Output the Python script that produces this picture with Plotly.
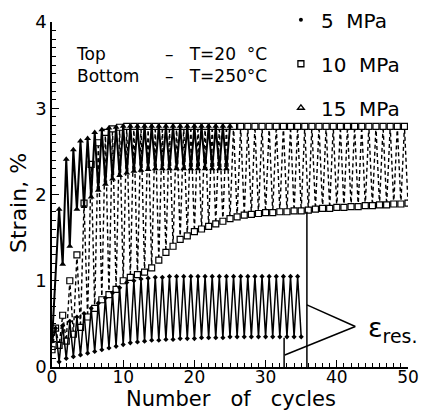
import plotly.graph_objects as go

# ---------------- data ----------------
# 5 MPa : bottom (T=250°C) at integer cycles, top (T=20°C) at half cycles
bot5_cyc = list(range(0, 36))
bot5 = [0.30, 0.06, 0.10, 0.12, 0.14, 0.16, 0.18, 0.20, 0.22, 0.24,
        0.26, 0.28, 0.29, 0.30, 0.31, 0.31, 0.32, 0.32, 0.33, 0.33,
        0.33, 0.34, 0.34, 0.34, 0.34, 0.35, 0.35, 0.35, 0.35, 0.35,
        0.35, 0.35, 0.35, 0.35, 0.35, 0.35]
top5_cyc = [n + 0.5 for n in range(0, 35)]
top5 = [0.45, 0.48, 0.53, 0.58, 0.62, 0.68, 0.74, 0.80, 0.86, 0.92,
        0.98, 1.00, 1.02, 1.03, 1.04, 1.04, 1.05, 1.05, 1.05, 1.05,
        1.05, 1.05, 1.05, 1.05, 1.05, 1.05, 1.05, 1.05, 1.05, 1.05,
        1.05, 1.05, 1.05, 1.05, 1.05]

# 10 MPa
bot10_cyc = list(range(0, 51))
bot10 = [0.20, 0.25, 0.30, 0.38, 0.46, 0.58, 0.68, 0.78, 0.84, 0.90,
         1.00, 1.04, 1.07, 1.10, 1.15, 1.24, 1.33, 1.40, 1.48, 1.52,
         1.57, 1.60, 1.63, 1.66, 1.69, 1.72, 1.74, 1.76, 1.77, 1.78,
         1.79, 1.79, 1.80, 1.80, 1.81, 1.81, 1.82, 1.83, 1.84, 1.84,
         1.85, 1.85, 1.86, 1.86, 1.87, 1.87, 1.88, 1.88, 1.89, 1.89,
         1.90]
top10_cyc = [n + 0.5 for n in range(0, 50)]
top10 = [0.45, 0.60, 1.00, 1.30, 1.90, 2.35, 2.60, 2.72, 2.76, 2.78,
         2.79, 2.79, 2.79, 2.79, 2.79, 2.79, 2.79, 2.79, 2.79, 2.79,
         2.79, 2.79, 2.79, 2.79, 2.79, 2.79, 2.79, 2.79, 2.79, 2.79,
         2.79, 2.79, 2.79, 2.79, 2.79, 2.79, 2.79, 2.79, 2.79, 2.79,
         2.79, 2.79, 2.79, 2.79, 2.79, 2.79, 2.79, 2.79, 2.79, 2.79]

# 15 MPa : top at integer cycles, bottom at half cycles (plus start)
bot15_cyc = [0] + [n + 0.5 for n in range(1, 25)]
bot15 = [0.30, 1.19, 1.40, 1.83, 1.86, 1.97, 2.05, 2.12, 2.18, 2.22,
         2.25, 2.27, 2.28, 2.29, 2.30, 2.30, 2.30, 2.30, 2.30, 2.30,
         2.30, 2.30, 2.30, 2.30, 2.30]
top15_cyc = list(range(1, 26))
top15 = [1.83, 2.41, 2.52, 2.62, 2.65, 2.72, 2.75, 2.77, 2.78, 2.79,
         2.79, 2.79, 2.79, 2.79, 2.79, 2.79, 2.79, 2.79, 2.79, 2.79,
         2.79, 2.79, 2.79, 2.79, 2.79]

series_names = ["5  MPa", "10  MPa", "15  MPa"]

# residual-strain annotation (cycle, strain)
eres_long = (35.8, 1.80)
eres_short = (32.6, 0.34)
eres_tip = (42.6, 0.47)
eres_ends = [(35.8, 0.72), (32.7, 0.14)]


def merge(bx, by, tx, ty):
    pts = sorted(list(zip(bx, by)) + list(zip(tx, ty)), key=lambda p: p[0])
    return [p[0] for p in pts], [p[1] for p in pts]


x5, y5 = merge(bot5_cyc, bot5, top5_cyc, top5)
x10, y10 = merge(bot10_cyc, bot10, top10_cyc, top10)
x15, y15 = merge(bot15_cyc, bot15, top15_cyc, top15)

fig = go.Figure()
fig.add_trace(go.Scatter(x=x10, y=y10, mode="lines+markers", showlegend=False,
                         line=dict(color="black", width=1.4, dash="4px,3px"),
                         marker=dict(symbol="square", size=6, color="white",
                                     line=dict(color="black", width=1.2))))
fig.add_trace(go.Scatter(x=x5, y=y5, mode="lines+markers", showlegend=False,
                         line=dict(color="black", width=1.5),
                         marker=dict(symbol="diamond", size=4, color="black")))
fig.add_trace(go.Scatter(x=x15, y=y15, mode="lines+markers", showlegend=False,
                         line=dict(color="black", width=2),
                         marker=dict(symbol="triangle-up", size=6, color="black")))

# legend entries
leg_symbols = [dict(symbol="circle", size=4, color="black"),
               dict(symbol="square-open", size=6, color="black", line=dict(width=1.3)),
               dict(symbol="triangle-up-open", size=6, color="black", line=dict(width=1.3))]
for i, (nm, mk) in enumerate(zip(series_names, leg_symbols)):
    fig.add_trace(go.Scatter(x=[None], y=[None], mode="markers", name=nm,
                             marker=mk, legendgroup=str(i)))

# residual strain lines
lw = dict(color="black", width=1.5)
fig.add_shape(type="line", xref="x", yref="y", x0=eres_long[0], x1=eres_long[0],
              y0=0, y1=eres_long[1], line=lw)
fig.add_shape(type="line", xref="x", yref="y", x0=eres_short[0], x1=eres_short[0],
              y0=0, y1=eres_short[1], line=lw)
for ex, ey in eres_ends:
    fig.add_shape(type="line", xref="x", yref="y", x0=eres_tip[0], y0=eres_tip[1],
                  x1=ex, y1=ey, line=lw)

fig.add_annotation(x=44.1, y=0.44, xref="x", yref="y", text="ε<sub>res.</sub>",
                   showarrow=False, xanchor="left", yanchor="middle",
                   font=dict(size=27, color="black", family="DejaVu Sans"))


def px2paper(px, py):
    return (px - 52) / 356.0, (367 - py) / 345.0


tf = dict(size=17, color="black", family="DejaVu Sans")
for txt, (px, py) in [("Top<br>Bottom", (74, 65)),
                      ("–   T=20  °C<br>–   T=250°C", (163, 65))]:
    ax, ay = px2paper(px, py)
    fig.add_annotation(x=ax, y=ay, xref="paper", yref="paper", text=txt, align="left",
                       showarrow=False, xanchor="left", yanchor="middle", font=tf)

# axis titles
ax, ay = px2paper(231, 399)
fig.add_annotation(x=ax, y=ay, xref="paper", yref="paper", text="Number   of   cycles",
                   showarrow=False, xanchor="center", yanchor="middle",
                   font=dict(size=21, color="black", family="DejaVu Sans"))
ax, ay = px2paper(19, 203)
fig.add_annotation(x=ax, y=ay, xref="paper", yref="paper", text="Strain, %",
                   showarrow=False, xanchor="center", yanchor="middle", textangle=-90,
                   font=dict(size=22, color="black", family="DejaVu Sans"))

fig.update_layout(
    width=423, height=412, autosize=False,
    margin=dict(l=52, r=15, t=22, b=45, autoexpand=False),
    paper_bgcolor="white", plot_bgcolor="white",
    font=dict(family="DejaVu Sans", color="black", size=18),
    showlegend=True,
    legend=dict(x=0.643, y=1.063, xanchor="left", yanchor="top",
                bgcolor="rgba(0,0,0,0)", font=dict(size=20),
                tracegroupgap=15, itemwidth=30),
    xaxis=dict(range=[0, 50], tickvals=[0, 10, 20, 30, 40, 50], ticks="inside",
               ticklen=7, tickwidth=1.3, tickcolor="black", ticklabelstandoff=-6,
               minor=dict(dtick=1, ticks="inside", ticklen=4, tickcolor="black", tickwidth=1),
               showgrid=False, zeroline=False, showline=True, linecolor="black",
               linewidth=1.5, tickfont=dict(size=17)),
    yaxis=dict(range=[0, 4], tickvals=[0, 1, 2, 3, 4], ticks="inside",
               ticklen=7, tickwidth=1.3, tickcolor="black",
               minor=dict(dtick=0.1, ticks="inside", ticklen=4, tickcolor="black", tickwidth=1),
               showgrid=False, zeroline=False, showline=True, linecolor="black",
               linewidth=1.5, tickfont=dict(size=18)),
)

fig.write_html("out.html")
